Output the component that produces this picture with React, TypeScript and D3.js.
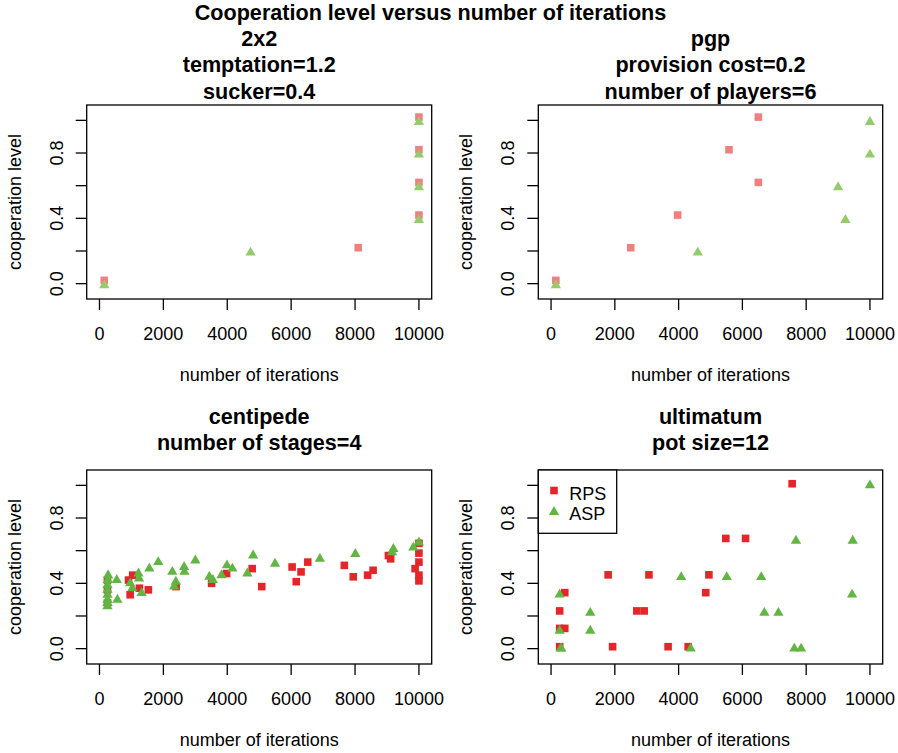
import React from "react";
import * as d3 from "d3";

// ---------- shared labels / ticks ----------
const MAIN_TITLE = "Cooperation level versus number of iterations";
const X_LABEL = "number of iterations";
const Y_LABEL = "cooperation level";
const SERIES = ["RPS", "ASP"];
const X_TICKS = [0, 2000, 4000, 6000, 8000, 10000];
const Y_TICKS = [0, 0.2, 0.4, 0.6, 0.8, 1.0];
const Y_TICK_LABELS = ["0.0", "", "0.4", "", "0.8", ""];
const X_DOMAIN = [-400, 10400];
const Y_DOMAIN = [-0.094, 1.094];

// ---------- panel 1: 2x2 ----------
const p1Title = ["2x2", "temptation=1.2", "sucker=0.4"];
const p1RpsX = [150, 8100, 10000, 10000, 10000, 10000];
const p1RpsY = [0.02, 0.22, 0.42, 0.62, 0.82, 1.02];
const p1AspX = [150, 4730, 10000, 10000, 10000, 10000];
const p1AspY = [-0.01, 0.19, 0.39, 0.59, 0.79, 0.99];

// ---------- panel 2: pgp ----------
const p2Title = ["pgp", "provision cost=0.2", "number of players=6"];
const p2RpsX = [150, 2500, 3970, 5580, 6500, 6500];
const p2RpsY = [0.02, 0.22, 0.42, 0.82, 1.02, 0.62];
const p2AspX = [150, 4600, 9000, 9230, 10000, 10000];
const p2AspY = [-0.01, 0.19, 0.59, 0.39, 0.99, 0.79];

// ---------- panel 3: centipede ----------
const p3Title = ["centipede", "number of stages=4"];
const p3RpsX = [250, 250, 250, 910, 1040, 960, 1250, 1530, 2400, 3510, 3980, 4780, 5080, 6030, 6310, 6160, 6520, 7665, 7945, 8395, 8565, 9045, 9115, 10000, 10000, 10000, 9880, 10000, 10000];
const p3RpsY = [0.42, 0.36, 0.28, 0.42, 0.45, 0.33, 0.37, 0.36, 0.38, 0.40, 0.46, 0.49, 0.38, 0.50, 0.47, 0.41, 0.53, 0.51, 0.44, 0.45, 0.48, 0.57, 0.55, 0.645, 0.585, 0.53, 0.49, 0.45, 0.415];
const p3AspX = [270, 260, 250, 250, 250, 250, 250, 250, 540, 560, 960, 1030, 1220, 1240, 1320, 1560, 1840, 2280, 2390, 2340, 2650, 2660, 3000, 3440, 3550, 3820, 3990, 4160, 4630, 4810, 5495, 6900, 8010, 9200, 9160, 9825, 10000];
const p3AspY = [0.45, 0.42, 0.39, 0.36, 0.33, 0.30, 0.28, 0.26, 0.42, 0.30, 0.40, 0.37, 0.46, 0.43, 0.34, 0.49, 0.53, 0.47, 0.41, 0.38, 0.50, 0.47, 0.54, 0.44, 0.42, 0.45, 0.51, 0.49, 0.46, 0.57, 0.52, 0.55, 0.58, 0.61, 0.59, 0.62, 0.65];

// ---------- panel 4: ultimatum ----------
const p4Title = ["ultimatum", "pot size=12"];
const p4RpsX = [7560, 5480, 6100, 1790, 3070, 4950, 430, 4850, 270, 2690, 2920, 270, 430, 270, 1930, 3670, 4300];
const p4RpsY = [1.01, 0.675, 0.675, 0.452, 0.452, 0.452, 0.343, 0.343, 0.231, 0.231, 0.231, 0.124, 0.124, 0.012, 0.012, 0.012, 0.012];
const p4AspX = [10000, 7680, 9460, 4080, 5510, 6590, 270, 9440, 1230, 6690, 7130, 270, 1230, 300, 320, 4380, 7630, 7840];
const p4AspY = [1.0, 0.661, 0.661, 0.438, 0.438, 0.438, 0.331, 0.331, 0.219, 0.219, 0.219, 0.11, 0.11, 0.0, 0.0, 0.0, 0.0, 0.0];

const FONT = "'Liberation Sans', Arial, Helvetica, sans-serif";
const LIGHT = { rps: "#F08080", asp: "#96CB6C" };
const DARK = { rps: "#E2262A", asp: "#62B543" };

const triPath = d3.symbol().type(d3.symbolTriangle).size(46)();
const SQ = 7.6;

type Box = { x0: number; x1: number; y0: number; y1: number };

function Square({ cx, cy, fill }: { cx: number; cy: number; fill: string }) {
  return <rect x={cx - SQ / 2} y={cy - SQ / 2} width={SQ} height={SQ} fill={fill} />;
}
function Tri({ cx, cy, fill }: { cx: number; cy: number; fill: string }) {
  return <path d={triPath as string} transform={`translate(${cx},${cy})`} fill={fill} />;
}

function Panel({
  box, title, rx, ry, ax, ay, colors, legend,
}: {
  box: Box; title: string[]; rx: number[]; ry: number[]; ax: number[]; ay: number[];
  colors: { rps: string; asp: string }; legend?: boolean;
}) {
  const x = d3.scaleLinear().domain(X_DOMAIN).range([box.x0, box.x1]);
  const y = d3.scaleLinear().domain(Y_DOMAIN).range([box.y1, box.y0]);
  const cx = (box.x0 + box.x1) / 2;
  const cy = (box.y0 + box.y1) / 2;
  const n = title.length;
  return (
    <g>
      {title.map((t, i) => (
        <text key={i} x={cx} y={box.y0 - 32.7 + (i - (n - 1) / 2) * 26.3} textAnchor="middle"
          fontFamily={FONT} fontWeight="bold" fontSize={21.6} fill="#000">{t}</text>
      ))}
      {rx.map((v, i) => <Square key={"r" + i} cx={x(v)} cy={y(ry[i])} fill={colors.rps} />)}
      {ax.map((v, i) => <Tri key={"a" + i} cx={x(v)} cy={y(ay[i])} fill={colors.asp} />)}
      <rect x={box.x0} y={box.y0} width={box.x1 - box.x0} height={box.y1 - box.y0} fill="none" stroke="#000" strokeWidth={1.3} />
      {X_TICKS.map((t) => (
        <g key={"xt" + t}>
          <line x1={x(t)} x2={x(t)} y1={box.y1} y2={box.y1 + 11} stroke="#000" strokeWidth={1.3} />
          <text x={x(t)} y={box.y1 + 41} textAnchor="middle" fontFamily={FONT} fontSize={18} fill="#000">{t}</text>
        </g>
      ))}
      {Y_TICKS.map((t, i) => (
        <g key={"yt" + t}>
          <line x1={box.x0 - 11} x2={box.x0} y1={y(t)} y2={y(t)} stroke="#000" strokeWidth={1.3} />
          {Y_TICK_LABELS[i] && (
            <text transform={`translate(${box.x0 - 24},${y(t)}) rotate(-90)`} textAnchor="middle"
              fontFamily={FONT} fontSize={18} fill="#000">{Y_TICK_LABELS[i]}</text>
          )}
        </g>
      ))}
      <text x={cx} y={box.y1 + 82} textAnchor="middle" fontFamily={FONT} fontSize={18} fill="#000">{X_LABEL}</text>
      <text transform={`translate(${box.x0 - 66},${cy}) rotate(-90)`} textAnchor="middle"
        fontFamily={FONT} fontSize={18} fill="#000">{Y_LABEL}</text>
      {legend && (
        <g>
          <rect x={box.x0} y={box.y0} width={78.4} height={63.3} fill="#fff" stroke="#000" strokeWidth={1.3} />
          <Square cx={box.x0 + 15.7} cy={box.y0 + 20.5} fill={colors.rps} />
          <text x={box.x0 + 31} y={box.y0 + 30} fontFamily={FONT} fontSize={18} fill="#000">{SERIES[0]}</text>
          <Tri cx={box.x0 + 15.7} cy={box.y0 + 42} fill={colors.asp} />
          <text x={box.x0 + 31} y={box.y0 + 50} fontFamily={FONT} fontSize={18} fill="#000">{SERIES[1]}</text>
        </g>
      )}
    </g>
  );
}

export default function App() {
  const L = { x0: 86.7, x1: 431.7 };
  const R = { x0: 538.3, x1: 882.7 };
  const T = { y0: 105, y1: 299 };
  const B = { y0: 470, y1: 664 };
  return (
    <svg width={898} height={753} style={{ position: "absolute", left: 0, top: 0, background: "#fff" }}>
      <rect width={898} height={753} fill="#fff" />
      <text x={430.5} y={20} textAnchor="middle" fontFamily={FONT} fontWeight="bold" fontSize={21.6} fill="#000">{MAIN_TITLE}</text>
      <Panel box={{ ...L, ...T }} title={p1Title} rx={p1RpsX} ry={p1RpsY} ax={p1AspX} ay={p1AspY} colors={LIGHT} />
      <Panel box={{ ...R, ...T }} title={p2Title} rx={p2RpsX} ry={p2RpsY} ax={p2AspX} ay={p2AspY} colors={LIGHT} />
      <Panel box={{ ...L, ...B }} title={p3Title} rx={p3RpsX} ry={p3RpsY} ax={p3AspX} ay={p3AspY} colors={DARK} />
      <Panel box={{ ...R, ...B }} title={p4Title} rx={p4RpsX} ry={p4RpsY} ax={p4AspX} ay={p4AspY} colors={DARK} legend />
    </svg>
  );
}
